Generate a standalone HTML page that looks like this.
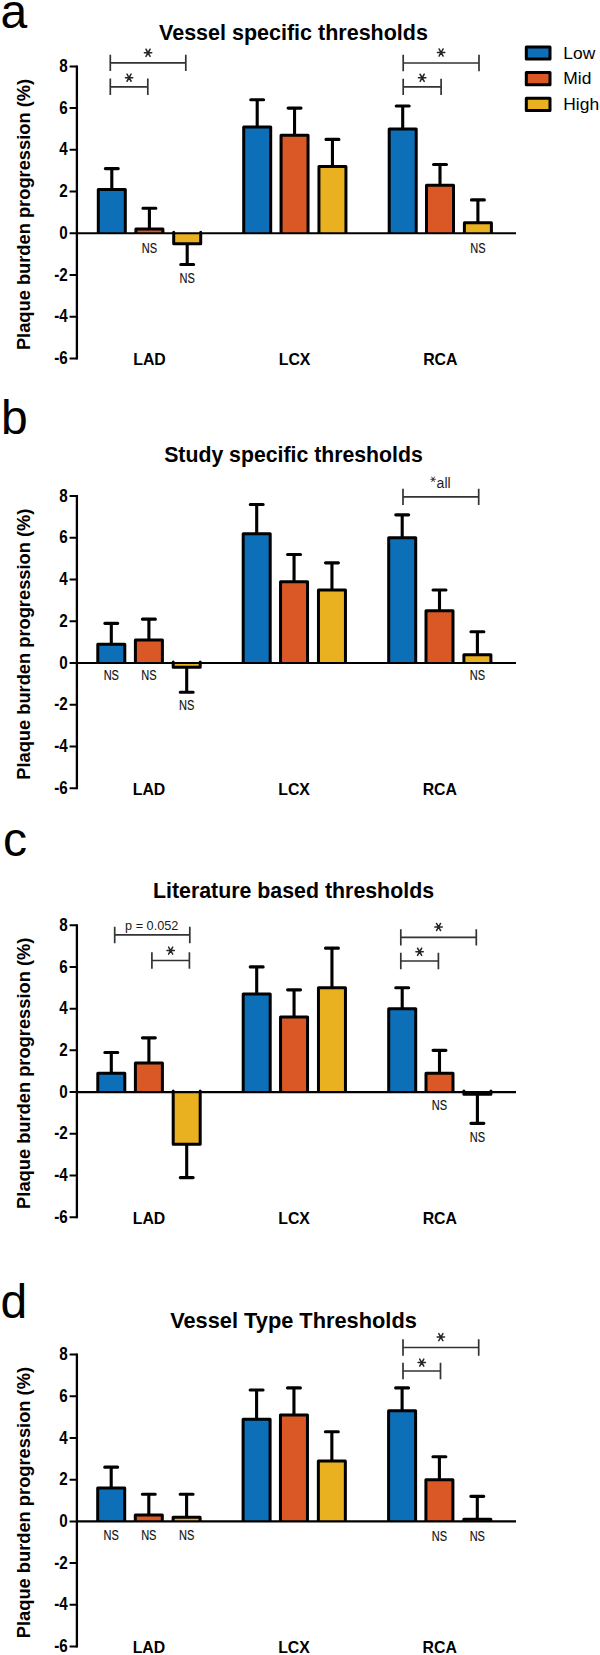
<!DOCTYPE html>
<html><head><meta charset="utf-8"><title>Plaque burden progression</title>
<style>
html,body{margin:0;padding:0;background:#fff;}
svg{display:block;}
text{font-family:"Liberation Sans",sans-serif;fill:#000;}
.lt{font-size:48px;}
.tt{font-size:21.3px;font-weight:bold;}
.yl{font-size:18.3px;font-weight:bold;}
.tk{font-size:18px;font-weight:bold;}
.xl{font-size:16.5px;font-weight:bold;}
.ns{font-size:13.8px;fill:#111;stroke:#111;stroke-width:0.15px;}
.br{font-size:14px;fill:#1e1e1e;}
.br2{font-size:12.7px;fill:#1a1a1a;}
.lg{font-size:17.4px;}
</style></head>
<body>
<svg width="600" height="1655" viewBox="0 0 600 1655">
<rect width="600" height="1655" fill="#fff"/>
<text class="lt" x="0.6" y="27.5">a</text>
<text class="tt" x="293.5" y="39.8" text-anchor="middle" style="font-size:21.5px">Vessel specific thresholds</text>
<text class="yl" transform="translate(30.2 214.5) rotate(-90)" text-anchor="middle">Plaque burden progression (%)</text>
<path d="M76.9 65.4V359.44" stroke="#000" stroke-width="2.3" fill="none"/>
<text class="tk" transform="translate(67.8 72) scale(0.845 1)" text-anchor="end">8</text>
<text class="tk" transform="translate(67.8 113.72) scale(0.845 1)" text-anchor="end">6</text>
<text class="tk" transform="translate(67.8 155.44) scale(0.845 1)" text-anchor="end">4</text>
<text class="tk" transform="translate(67.8 197.16) scale(0.845 1)" text-anchor="end">2</text>
<text class="tk" transform="translate(67.8 238.88) scale(0.845 1)" text-anchor="end">0</text>
<text class="tk" transform="translate(67.8 280.6) scale(0.845 1)" text-anchor="end">-2</text>
<text class="tk" transform="translate(67.8 322.32) scale(0.845 1)" text-anchor="end">-4</text>
<text class="tk" transform="translate(67.8 364.04) scale(0.845 1)" text-anchor="end">-6</text>
<path d="M69.6 66.4H76.9M69.6 108.12H76.9M69.6 149.84H76.9M69.6 191.56H76.9M69.6 233.28H76.9M69.6 275H76.9M69.6 316.72H76.9M69.6 358.44H76.9" stroke="#000" stroke-width="2" fill="none"/>
<path d="M111.8 189.47V168.61M105.35 168.61H118.25" stroke="#000" stroke-width="3.1" stroke-linecap="round" fill="none"/>
<rect x="98.3" y="189.47" width="27" height="43.81" fill="#0c6fb8"/>
<path d="M98.3 233.78V189.47H125.3V233.78" stroke="#000" stroke-width="3.0" stroke-linejoin="round" fill="none"/>
<path d="M149.4 229.11V208.25M142.95 208.25H155.85" stroke="#000" stroke-width="3.1" stroke-linecap="round" fill="none"/>
<rect x="135.9" y="229.11" width="27" height="4.17" fill="#d95825"/>
<path d="M135.9 233.78V229.11H162.9V233.78" stroke="#000" stroke-width="3.0" stroke-linejoin="round" fill="none"/>
<path d="M187.2 243.71V264.57M180.75 264.57H193.65" stroke="#000" stroke-width="3.1" stroke-linecap="round" fill="none"/>
<rect x="173.7" y="233.28" width="27" height="10.43" fill="#e9b020"/>
<path d="M173.7 232.28V243.71H200.7V232.28" stroke="#000" stroke-width="3.0" stroke-linejoin="round" stroke-linecap="round" fill="none"/>
<path d="M257.2 126.89V99.78M250.75 99.78H263.65" stroke="#000" stroke-width="3.1" stroke-linecap="round" fill="none"/>
<rect x="243.7" y="126.89" width="27" height="106.39" fill="#0c6fb8"/>
<path d="M243.7 233.78V126.89H270.7V233.78" stroke="#000" stroke-width="3.0" stroke-linejoin="round" fill="none"/>
<path d="M294.55 135.24V108.12M288.1 108.12H301" stroke="#000" stroke-width="3.1" stroke-linecap="round" fill="none"/>
<rect x="281.05" y="135.24" width="27" height="98.04" fill="#d95825"/>
<path d="M281.05 233.78V135.24H308.05V233.78" stroke="#000" stroke-width="3.0" stroke-linejoin="round" fill="none"/>
<path d="M332.45 166.53V139.41M326 139.41H338.9" stroke="#000" stroke-width="3.1" stroke-linecap="round" fill="none"/>
<rect x="318.95" y="166.53" width="27" height="66.75" fill="#e9b020"/>
<path d="M318.95 233.78V166.53H345.95V233.78" stroke="#000" stroke-width="3.0" stroke-linejoin="round" fill="none"/>
<path d="M402.7 128.98V106.03M396.25 106.03H409.15" stroke="#000" stroke-width="3.1" stroke-linecap="round" fill="none"/>
<rect x="389.2" y="128.98" width="27" height="104.3" fill="#0c6fb8"/>
<path d="M389.2 233.78V128.98H416.2V233.78" stroke="#000" stroke-width="3.0" stroke-linejoin="round" fill="none"/>
<path d="M440 185.3V164.44M433.55 164.44H446.45" stroke="#000" stroke-width="3.1" stroke-linecap="round" fill="none"/>
<rect x="426.5" y="185.3" width="27" height="47.98" fill="#d95825"/>
<path d="M426.5 233.78V185.3H453.5V233.78" stroke="#000" stroke-width="3.0" stroke-linejoin="round" fill="none"/>
<path d="M477.9 222.85V199.9M471.45 199.9H484.35" stroke="#000" stroke-width="3.1" stroke-linecap="round" fill="none"/>
<rect x="464.4" y="222.85" width="27" height="10.43" fill="#e9b020"/>
<path d="M464.4 233.78V222.85H491.4V233.78" stroke="#000" stroke-width="3.0" stroke-linejoin="round" fill="none"/>
<path d="M76.9 233.28H516" stroke="#000" stroke-width="2.1" fill="none"/>
<text class="xl" transform="translate(149.5 364.98) scale(0.96 1)" text-anchor="middle">LAD</text>
<text class="xl" transform="translate(294.55 364.98) scale(0.96 1)" text-anchor="middle">LCX</text>
<text class="xl" transform="translate(440.3 364.98) scale(0.96 1)" text-anchor="middle">RCA</text>
<text class="ns" transform="translate(149.4 252.9) scale(0.8 1)" text-anchor="middle">NS</text>
<text class="ns" transform="translate(187.2 282.7) scale(0.8 1)" text-anchor="middle">NS</text>
<text class="ns" transform="translate(477.9 252.9) scale(0.8 1)" text-anchor="middle">NS</text>
<path d="M110.3 54.7V71.1M185.8 54.7V71.1M110.3 62.9H185.8" stroke="#333" stroke-width="1.7" fill="none"/>
<path d="M144.35 52.8H151.75M146 49.25L150.1 56.35M150.1 49.25L146 56.35" stroke="#262626" stroke-width="1.5" stroke-linecap="round" fill="none"/>
<path d="M110.3 78.6V95M147.8 78.6V95M110.3 86.8H147.8" stroke="#333" stroke-width="1.7" fill="none"/>
<path d="M125.35 77.7H132.75M127 74.15L131.1 81.25M131.1 74.15L127 81.25" stroke="#262626" stroke-width="1.5" stroke-linecap="round" fill="none"/>
<path d="M403.2 54.8V71.2M479 54.8V71.2M403.2 63H479" stroke="#333" stroke-width="1.7" fill="none"/>
<path d="M437.4 52.5H444.8M439.05 48.95L443.15 56.05M443.15 48.95L439.05 56.05" stroke="#262626" stroke-width="1.5" stroke-linecap="round" fill="none"/>
<path d="M403.2 78.65V95.05M441.1 78.65V95.05M403.2 86.85H441.1" stroke="#333" stroke-width="1.7" fill="none"/>
<path d="M418.45 77.8H425.85M420.1 74.25L424.2 81.35M424.2 74.25L420.1 81.35" stroke="#262626" stroke-width="1.5" stroke-linecap="round" fill="none"/>
<rect x="526.3" y="46.9" width="23.7" height="12.2" fill="#0c6fb8" stroke="#000" stroke-width="3" stroke-linejoin="round"/>
<text class="lg" x="563.3" y="58.5">Low</text>
<rect x="526.3" y="72.5" width="23.7" height="12.2" fill="#d95825" stroke="#000" stroke-width="3" stroke-linejoin="round"/>
<text class="lg" x="563.3" y="84.4">Mid</text>
<rect x="526.3" y="98.2" width="23.7" height="12.2" fill="#e9b020" stroke="#000" stroke-width="3" stroke-linejoin="round"/>
<text class="lg" x="563.3" y="110">High</text>
<text class="lt" x="1.1" y="433.5">b</text>
<text class="tt" x="293.5" y="462.4" text-anchor="middle" style="font-size:21.25px">Study specific thresholds</text>
<text class="yl" transform="translate(30.2 644.2) rotate(-90)" text-anchor="middle">Plaque burden progression (%)</text>
<path d="M76.9 495.1V789.14" stroke="#000" stroke-width="2.3" fill="none"/>
<text class="tk" transform="translate(67.8 501.7) scale(0.845 1)" text-anchor="end">8</text>
<text class="tk" transform="translate(67.8 543.42) scale(0.845 1)" text-anchor="end">6</text>
<text class="tk" transform="translate(67.8 585.14) scale(0.845 1)" text-anchor="end">4</text>
<text class="tk" transform="translate(67.8 626.86) scale(0.845 1)" text-anchor="end">2</text>
<text class="tk" transform="translate(67.8 668.58) scale(0.845 1)" text-anchor="end">0</text>
<text class="tk" transform="translate(67.8 710.3) scale(0.845 1)" text-anchor="end">-2</text>
<text class="tk" transform="translate(67.8 752.02) scale(0.845 1)" text-anchor="end">-4</text>
<text class="tk" transform="translate(67.8 793.74) scale(0.845 1)" text-anchor="end">-6</text>
<path d="M69.6 496.1H76.9M69.6 537.82H76.9M69.6 579.54H76.9M69.6 621.26H76.9M69.6 662.98H76.9M69.6 704.7H76.9M69.6 746.42H76.9M69.6 788.14H76.9" stroke="#000" stroke-width="2" fill="none"/>
<path d="M111.3 644.21V623.35M104.85 623.35H117.75" stroke="#000" stroke-width="3.1" stroke-linecap="round" fill="none"/>
<rect x="97.8" y="644.21" width="27" height="18.77" fill="#0c6fb8"/>
<path d="M97.8 663.48V644.21H124.8V663.48" stroke="#000" stroke-width="3.0" stroke-linejoin="round" fill="none"/>
<path d="M148.9 640.03V619.17M142.45 619.17H155.35" stroke="#000" stroke-width="3.1" stroke-linecap="round" fill="none"/>
<rect x="135.4" y="640.03" width="27" height="22.95" fill="#d95825"/>
<path d="M135.4 663.48V640.03H162.4V663.48" stroke="#000" stroke-width="3.0" stroke-linejoin="round" fill="none"/>
<path d="M186.7 667.15V692.18M180.25 692.18H193.15" stroke="#000" stroke-width="3.1" stroke-linecap="round" fill="none"/>
<rect x="173.2" y="662.98" width="27" height="4.17" fill="#e9b020"/>
<path d="M173.2 661.98V667.15H200.2V661.98" stroke="#000" stroke-width="3.0" stroke-linejoin="round" stroke-linecap="round" fill="none"/>
<path d="M256.7 533.65V504.44M250.25 504.44H263.15" stroke="#000" stroke-width="3.1" stroke-linecap="round" fill="none"/>
<rect x="243.2" y="533.65" width="27" height="129.33" fill="#0c6fb8"/>
<path d="M243.2 663.48V533.65H270.2V663.48" stroke="#000" stroke-width="3.0" stroke-linejoin="round" fill="none"/>
<path d="M294.05 581.63V554.51M287.6 554.51H300.5" stroke="#000" stroke-width="3.1" stroke-linecap="round" fill="none"/>
<rect x="280.55" y="581.63" width="27" height="81.35" fill="#d95825"/>
<path d="M280.55 663.48V581.63H307.55V663.48" stroke="#000" stroke-width="3.0" stroke-linejoin="round" fill="none"/>
<path d="M331.95 589.97V562.85M325.5 562.85H338.4" stroke="#000" stroke-width="3.1" stroke-linecap="round" fill="none"/>
<rect x="318.45" y="589.97" width="27" height="73.01" fill="#e9b020"/>
<path d="M318.45 663.48V589.97H345.45V663.48" stroke="#000" stroke-width="3.0" stroke-linejoin="round" fill="none"/>
<path d="M402.2 537.82V514.87M395.75 514.87H408.65" stroke="#000" stroke-width="3.1" stroke-linecap="round" fill="none"/>
<rect x="388.7" y="537.82" width="27" height="125.16" fill="#0c6fb8"/>
<path d="M388.7 663.48V537.82H415.7V663.48" stroke="#000" stroke-width="3.0" stroke-linejoin="round" fill="none"/>
<path d="M439.5 610.83V589.97M433.05 589.97H445.95" stroke="#000" stroke-width="3.1" stroke-linecap="round" fill="none"/>
<rect x="426" y="610.83" width="27" height="52.15" fill="#d95825"/>
<path d="M426 663.48V610.83H453V663.48" stroke="#000" stroke-width="3.0" stroke-linejoin="round" fill="none"/>
<path d="M477.4 654.64V631.69M470.95 631.69H483.85" stroke="#000" stroke-width="3.1" stroke-linecap="round" fill="none"/>
<rect x="463.9" y="654.64" width="27" height="8.34" fill="#e9b020"/>
<path d="M463.9 663.48V654.64H490.9V663.48" stroke="#000" stroke-width="3.0" stroke-linejoin="round" fill="none"/>
<path d="M76.9 662.98H516" stroke="#000" stroke-width="2.1" fill="none"/>
<text class="xl" transform="translate(149 794.68) scale(0.96 1)" text-anchor="middle">LAD</text>
<text class="xl" transform="translate(294.05 794.68) scale(0.96 1)" text-anchor="middle">LCX</text>
<text class="xl" transform="translate(439.8 794.68) scale(0.96 1)" text-anchor="middle">RCA</text>
<text class="ns" transform="translate(111.3 680.1) scale(0.8 1)" text-anchor="middle">NS</text>
<text class="ns" transform="translate(148.9 680.1) scale(0.8 1)" text-anchor="middle">NS</text>
<text class="ns" transform="translate(186.7 709.5) scale(0.8 1)" text-anchor="middle">NS</text>
<text class="ns" transform="translate(477.4 680.1) scale(0.8 1)" text-anchor="middle">NS</text>
<path d="M403 488.7V505.1M478.7 488.7V505.1M403 496.9H478.7" stroke="#333" stroke-width="1.7" fill="none"/>
<path d="M430.8 479.3H435.4M431.8 477.05L434.4 481.55M434.4 477.05L431.8 481.55" stroke="#333" stroke-width="0.95" stroke-linecap="round" fill="none"/>
<text class="br" x="436.6" y="487.6">all</text>
<text class="lt" x="3.0" y="855.5">c</text>
<text class="tt" x="293.5" y="898.4" text-anchor="middle" style="font-size:21.35px">Literature based thresholds</text>
<text class="yl" transform="translate(30.2 1073.3) rotate(-90)" text-anchor="middle">Plaque burden progression (%)</text>
<path d="M76.9 924.2V1218.24" stroke="#000" stroke-width="2.3" fill="none"/>
<text class="tk" transform="translate(67.8 930.8) scale(0.845 1)" text-anchor="end">8</text>
<text class="tk" transform="translate(67.8 972.52) scale(0.845 1)" text-anchor="end">6</text>
<text class="tk" transform="translate(67.8 1014.24) scale(0.845 1)" text-anchor="end">4</text>
<text class="tk" transform="translate(67.8 1055.96) scale(0.845 1)" text-anchor="end">2</text>
<text class="tk" transform="translate(67.8 1097.68) scale(0.845 1)" text-anchor="end">0</text>
<text class="tk" transform="translate(67.8 1139.4) scale(0.845 1)" text-anchor="end">-2</text>
<text class="tk" transform="translate(67.8 1181.12) scale(0.845 1)" text-anchor="end">-4</text>
<text class="tk" transform="translate(67.8 1222.84) scale(0.845 1)" text-anchor="end">-6</text>
<path d="M69.6 925.2H76.9M69.6 966.92H76.9M69.6 1008.64H76.9M69.6 1050.36H76.9M69.6 1092.08H76.9M69.6 1133.8H76.9M69.6 1175.52H76.9M69.6 1217.24H76.9" stroke="#000" stroke-width="2" fill="none"/>
<path d="M111.3 1073.31V1052.45M104.85 1052.45H117.75" stroke="#000" stroke-width="3.1" stroke-linecap="round" fill="none"/>
<rect x="97.8" y="1073.31" width="27" height="18.77" fill="#0c6fb8"/>
<path d="M97.8 1092.58V1073.31H124.8V1092.58" stroke="#000" stroke-width="3.0" stroke-linejoin="round" fill="none"/>
<path d="M148.9 1062.88V1037.84M142.45 1037.84H155.35" stroke="#000" stroke-width="3.1" stroke-linecap="round" fill="none"/>
<rect x="135.4" y="1062.88" width="27" height="29.2" fill="#d95825"/>
<path d="M135.4 1092.58V1062.88H162.4V1092.58" stroke="#000" stroke-width="3.0" stroke-linejoin="round" fill="none"/>
<path d="M186.7 1144.23V1177.61M180.25 1177.61H193.15" stroke="#000" stroke-width="3.1" stroke-linecap="round" fill="none"/>
<rect x="173.2" y="1092.08" width="27" height="52.15" fill="#e9b020"/>
<path d="M173.2 1091.08V1144.23H200.2V1091.08" stroke="#000" stroke-width="3.0" stroke-linejoin="round" stroke-linecap="round" fill="none"/>
<path d="M256.7 994.04V966.92M250.25 966.92H263.15" stroke="#000" stroke-width="3.1" stroke-linecap="round" fill="none"/>
<rect x="243.2" y="994.04" width="27" height="98.04" fill="#0c6fb8"/>
<path d="M243.2 1092.58V994.04H270.2V1092.58" stroke="#000" stroke-width="3.0" stroke-linejoin="round" fill="none"/>
<path d="M294.05 1016.98V989.87M287.6 989.87H300.5" stroke="#000" stroke-width="3.1" stroke-linecap="round" fill="none"/>
<rect x="280.55" y="1016.98" width="27" height="75.1" fill="#d95825"/>
<path d="M280.55 1092.58V1016.98H307.55V1092.58" stroke="#000" stroke-width="3.0" stroke-linejoin="round" fill="none"/>
<path d="M331.95 987.78V948.15M325.5 948.15H338.4" stroke="#000" stroke-width="3.1" stroke-linecap="round" fill="none"/>
<rect x="318.45" y="987.78" width="27" height="104.3" fill="#e9b020"/>
<path d="M318.45 1092.58V987.78H345.45V1092.58" stroke="#000" stroke-width="3.0" stroke-linejoin="round" fill="none"/>
<path d="M402.2 1008.64V987.78M395.75 987.78H408.65" stroke="#000" stroke-width="3.1" stroke-linecap="round" fill="none"/>
<rect x="388.7" y="1008.64" width="27" height="83.44" fill="#0c6fb8"/>
<path d="M388.7 1092.58V1008.64H415.7V1092.58" stroke="#000" stroke-width="3.0" stroke-linejoin="round" fill="none"/>
<path d="M439.5 1073.31V1050.36M433.05 1050.36H445.95" stroke="#000" stroke-width="3.1" stroke-linecap="round" fill="none"/>
<rect x="426" y="1073.31" width="27" height="18.77" fill="#d95825"/>
<path d="M426 1092.58V1073.31H453V1092.58" stroke="#000" stroke-width="3.0" stroke-linejoin="round" fill="none"/>
<path d="M477.4 1094.17V1123.37M470.95 1123.37H483.85" stroke="#000" stroke-width="3.1" stroke-linecap="round" fill="none"/>
<rect x="463.9" y="1092.08" width="27" height="2.09" fill="#e9b020"/>
<path d="M463.9 1091.08V1094.17H490.9V1091.08" stroke="#000" stroke-width="3.0" stroke-linejoin="round" stroke-linecap="round" fill="none"/>
<path d="M76.9 1092.08H516" stroke="#000" stroke-width="2.1" fill="none"/>
<text class="xl" transform="translate(149 1223.78) scale(0.96 1)" text-anchor="middle">LAD</text>
<text class="xl" transform="translate(294.05 1223.78) scale(0.96 1)" text-anchor="middle">LCX</text>
<text class="xl" transform="translate(439.8 1223.78) scale(0.96 1)" text-anchor="middle">RCA</text>
<text class="ns" transform="translate(439.5 1109.7) scale(0.8 1)" text-anchor="middle">NS</text>
<text class="ns" transform="translate(477.4 1141.7) scale(0.8 1)" text-anchor="middle">NS</text>
<path d="M114.7 926.75V943.15M189.8 926.75V943.15M114.7 934.95H189.8" stroke="#333" stroke-width="1.7" fill="none"/>
<text class="br2" x="151.75" y="929.6" text-anchor="middle">p = 0.052</text>
<path d="M151.9 952.3V968.7M189.4 952.3V968.7M151.9 960.5H189.4" stroke="#333" stroke-width="1.7" fill="none"/>
<path d="M166.95 950.6H174.35M168.6 947.05L172.7 954.15M172.7 947.05L168.6 954.15" stroke="#262626" stroke-width="1.5" stroke-linecap="round" fill="none"/>
<path d="M400.8 929.2V945.6M476.3 929.2V945.6M400.8 937.4H476.3" stroke="#333" stroke-width="1.7" fill="none"/>
<path d="M434.85 927H442.25M436.5 923.45L440.6 930.55M440.6 923.45L436.5 930.55" stroke="#262626" stroke-width="1.5" stroke-linecap="round" fill="none"/>
<path d="M400.8 952.8V969.2M438.4 952.8V969.2M400.8 961H438.4" stroke="#333" stroke-width="1.7" fill="none"/>
<path d="M415.9 951.8H423.3M417.55 948.25L421.65 955.35M421.65 948.25L417.55 955.35" stroke="#262626" stroke-width="1.5" stroke-linecap="round" fill="none"/>
<text class="lt" x="0.6" y="1318.0">d</text>
<text class="tt" x="293.5" y="1327.8" text-anchor="middle" style="font-size:21.8px">Vessel Type Thresholds</text>
<text class="yl" transform="translate(30.2 1502.6) rotate(-90)" text-anchor="middle">Plaque burden progression (%)</text>
<path d="M76.9 1353.5V1647.54" stroke="#000" stroke-width="2.3" fill="none"/>
<text class="tk" transform="translate(67.8 1360.1) scale(0.845 1)" text-anchor="end">8</text>
<text class="tk" transform="translate(67.8 1401.82) scale(0.845 1)" text-anchor="end">6</text>
<text class="tk" transform="translate(67.8 1443.54) scale(0.845 1)" text-anchor="end">4</text>
<text class="tk" transform="translate(67.8 1485.26) scale(0.845 1)" text-anchor="end">2</text>
<text class="tk" transform="translate(67.8 1526.98) scale(0.845 1)" text-anchor="end">0</text>
<text class="tk" transform="translate(67.8 1568.7) scale(0.845 1)" text-anchor="end">-2</text>
<text class="tk" transform="translate(67.8 1610.42) scale(0.845 1)" text-anchor="end">-4</text>
<text class="tk" transform="translate(67.8 1652.14) scale(0.845 1)" text-anchor="end">-6</text>
<path d="M69.6 1354.5H76.9M69.6 1396.22H76.9M69.6 1437.94H76.9M69.6 1479.66H76.9M69.6 1521.38H76.9M69.6 1563.1H76.9M69.6 1604.82H76.9M69.6 1646.54H76.9" stroke="#000" stroke-width="2" fill="none"/>
<path d="M111.2 1488V1467.14M104.75 1467.14H117.65" stroke="#000" stroke-width="3.1" stroke-linecap="round" fill="none"/>
<rect x="97.7" y="1488" width="27" height="33.38" fill="#0c6fb8"/>
<path d="M97.7 1521.88V1488H124.7V1521.88" stroke="#000" stroke-width="3.0" stroke-linejoin="round" fill="none"/>
<path d="M148.8 1515.12V1494.26M142.35 1494.26H155.25" stroke="#000" stroke-width="3.1" stroke-linecap="round" fill="none"/>
<rect x="135.3" y="1515.12" width="27" height="6.26" fill="#d95825"/>
<path d="M135.3 1521.88V1515.12H162.3V1521.88" stroke="#000" stroke-width="3.0" stroke-linejoin="round" fill="none"/>
<path d="M186.6 1517.21V1494.26M180.15 1494.26H193.05" stroke="#000" stroke-width="3.1" stroke-linecap="round" fill="none"/>
<rect x="173.1" y="1517.21" width="27" height="4.17" fill="#e9b020"/>
<path d="M173.1 1521.88V1517.21H200.1V1521.88" stroke="#000" stroke-width="3.0" stroke-linejoin="round" fill="none"/>
<path d="M256.6 1419.17V1389.96M250.15 1389.96H263.05" stroke="#000" stroke-width="3.1" stroke-linecap="round" fill="none"/>
<rect x="243.1" y="1419.17" width="27" height="102.21" fill="#0c6fb8"/>
<path d="M243.1 1521.88V1419.17H270.1V1521.88" stroke="#000" stroke-width="3.0" stroke-linejoin="round" fill="none"/>
<path d="M293.95 1414.99V1387.88M287.5 1387.88H300.4" stroke="#000" stroke-width="3.1" stroke-linecap="round" fill="none"/>
<rect x="280.45" y="1414.99" width="27" height="106.39" fill="#d95825"/>
<path d="M280.45 1521.88V1414.99H307.45V1521.88" stroke="#000" stroke-width="3.0" stroke-linejoin="round" fill="none"/>
<path d="M331.85 1460.89V1431.68M325.4 1431.68H338.3" stroke="#000" stroke-width="3.1" stroke-linecap="round" fill="none"/>
<rect x="318.35" y="1460.89" width="27" height="60.49" fill="#e9b020"/>
<path d="M318.35 1521.88V1460.89H345.35V1521.88" stroke="#000" stroke-width="3.0" stroke-linejoin="round" fill="none"/>
<path d="M402.1 1410.82V1387.88M395.65 1387.88H408.55" stroke="#000" stroke-width="3.1" stroke-linecap="round" fill="none"/>
<rect x="388.6" y="1410.82" width="27" height="110.56" fill="#0c6fb8"/>
<path d="M388.6 1521.88V1410.82H415.6V1521.88" stroke="#000" stroke-width="3.0" stroke-linejoin="round" fill="none"/>
<path d="M439.4 1479.66V1456.71M432.95 1456.71H445.85" stroke="#000" stroke-width="3.1" stroke-linecap="round" fill="none"/>
<rect x="425.9" y="1479.66" width="27" height="41.72" fill="#d95825"/>
<path d="M425.9 1521.88V1479.66H452.9V1521.88" stroke="#000" stroke-width="3.0" stroke-linejoin="round" fill="none"/>
<path d="M477.3 1519.29V1496.35M470.85 1496.35H483.75" stroke="#000" stroke-width="3.1" stroke-linecap="round" fill="none"/>
<rect x="463.8" y="1519.29" width="27" height="2.09" fill="#e9b020"/>
<path d="M463.8 1521.88V1519.29H490.8V1521.88" stroke="#000" stroke-width="3.0" stroke-linejoin="round" fill="none"/>
<path d="M76.9 1521.38H516" stroke="#000" stroke-width="2.1" fill="none"/>
<text class="xl" transform="translate(148.9 1653.08) scale(0.96 1)" text-anchor="middle">LAD</text>
<text class="xl" transform="translate(293.95 1653.08) scale(0.96 1)" text-anchor="middle">LCX</text>
<text class="xl" transform="translate(439.7 1653.08) scale(0.96 1)" text-anchor="middle">RCA</text>
<text class="ns" transform="translate(111.2 1540.1) scale(0.8 1)" text-anchor="middle">NS</text>
<text class="ns" transform="translate(148.8 1540.1) scale(0.8 1)" text-anchor="middle">NS</text>
<text class="ns" transform="translate(186.6 1540.1) scale(0.8 1)" text-anchor="middle">NS</text>
<text class="ns" transform="translate(439.4 1540.5) scale(0.8 1)" text-anchor="middle">NS</text>
<text class="ns" transform="translate(477.3 1540.5) scale(0.8 1)" text-anchor="middle">NS</text>
<path d="M403 1339.3V1355.7M478.7 1339.3V1355.7M403 1347.5H478.7" stroke="#333" stroke-width="1.7" fill="none"/>
<path d="M437.15 1337.1H444.55M438.8 1333.55L442.9 1340.65M442.9 1333.55L438.8 1340.65" stroke="#262626" stroke-width="1.5" stroke-linecap="round" fill="none"/>
<path d="M403 1362.8V1379.2M440.5 1362.8V1379.2M403 1371H440.5" stroke="#333" stroke-width="1.7" fill="none"/>
<path d="M418.05 1362.6H425.45M419.7 1359.05L423.8 1366.15M423.8 1359.05L419.7 1366.15" stroke="#262626" stroke-width="1.5" stroke-linecap="round" fill="none"/>
</svg>
</body></html>
